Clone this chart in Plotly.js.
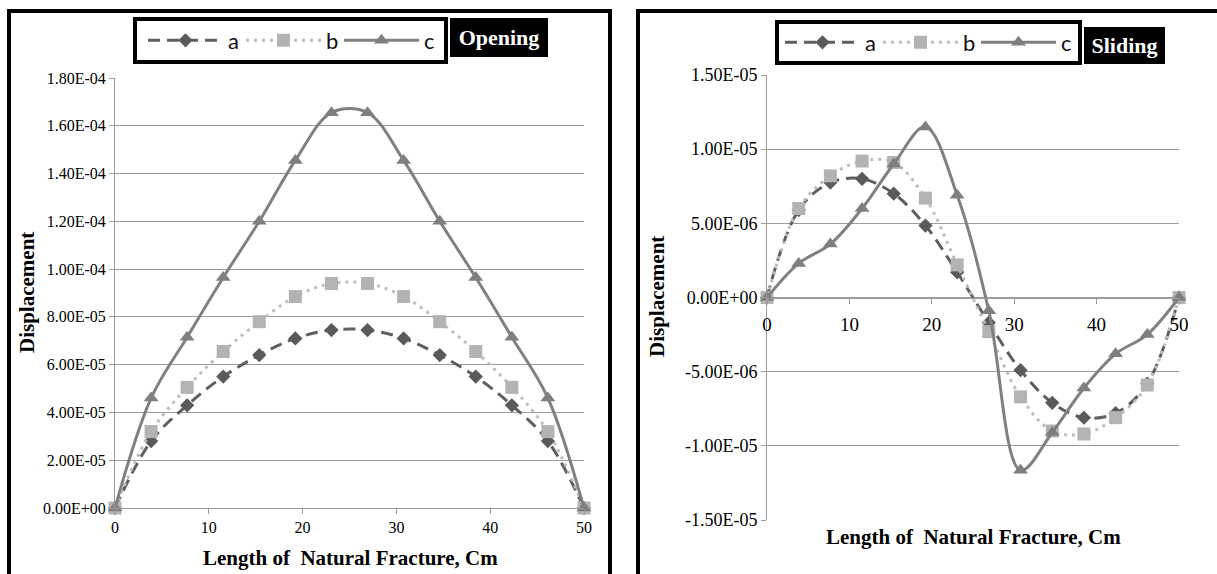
<!DOCTYPE html>
<html>
<head>
<meta charset="utf-8">
<script src="https://cdn.plot.ly/plotly-3.0.1.min.js"></script>
<style>
  html, body { margin: 0; padding: 0; background: #ffffff; }
  #chart { width: 1217px; height: 574px; }
</style>
</head>
<body>
<div id="chart"></div>
<script>
// ---------- data ----------
const xPts = [0, 3.85, 7.69, 11.54, 15.38, 19.23, 23.08, 26.92, 30.77, 34.62, 38.46, 42.31, 46.15, 50];

// Opening displacement
const openA = [0, 2.8e-5, 4.3e-5, 5.5e-5, 6.4e-5, 7.1e-5, 7.45e-5, 7.45e-5, 7.1e-5, 6.4e-5, 5.5e-5, 4.3e-5, 2.8e-5, 0];
const openB = [0, 3.2e-5, 5.05e-5, 6.55e-5, 7.8e-5, 8.85e-5, 9.4e-5, 9.4e-5, 8.85e-5, 7.8e-5, 6.55e-5, 5.05e-5, 3.2e-5, 0];
const openC = [0, 4.6e-5, 7.15e-5, 9.65e-5, 1.2e-4, 1.455e-4, 1.655e-4, 1.655e-4, 1.455e-4, 1.2e-4, 9.65e-5, 7.15e-5, 4.6e-5, 0];

// Sliding displacement
const slideA = [0, 5.9e-6, 7.75e-6, 8.0e-6, 7.0e-6, 4.85e-6, 1.7e-6, -1.7e-6, -4.9e-6, -7.1e-6, -8.1e-6, -7.8e-6, -5.8e-6, 0];
const slideB = [0, 6.0e-6, 8.2e-6, 9.2e-6, 9.1e-6, 6.7e-6, 2.2e-6, -2.3e-6, -6.7e-6, -9.0e-6, -9.2e-6, -8.1e-6, -5.9e-6, 0];
const slideC = [0, 2.3e-6, 3.6e-6, 6.0e-6, 9.0e-6, 1.15e-5, 6.9e-6, -9e-7, -1.165e-5, -9.1e-6, -6.1e-6, -3.8e-6, -2.5e-6, 0];

const seriesNames = ["a", "b", "c"];

// ---------- tick labels ----------
const xTickVals = [0, 10, 20, 30, 40, 50];
const xTickText = ["0", "10", "20", "30", "40", "50"];
const openTickVals = [0, 2e-5, 4e-5, 6e-5, 8e-5, 1e-4, 1.2e-4, 1.4e-4, 1.6e-4, 1.8e-4];
const openTickText = ["0.00E+00", "2.00E-05", "4.00E-05", "6.00E-05", "8.00E-05", "1.00E-04", "1.20E-04", "1.40E-04", "1.60E-04", "1.80E-04"];
const slideTickVals = [-1.5e-5, -1e-5, -5e-6, 0, 5e-6, 1e-5, 1.5e-5];
const slideTickText = ["-1.50E-05", "-1.00E-05", "-5.00E-06", "0.00E+00", "5.00E-06", "1.00E-05", "1.50E-05"];

// ---------- styling ----------
const W = 1217, H = 574;
const px = v => v / W;
const py = v => (H - v) / H;

const serif = "Liberation Serif, Times New Roman, serif";
const sans = "Lato, Open Sans, sans-serif";
const grid = "#9c9c9c";

const styles = [
  { line: { color: "#5f5f5f", width: 3, dash: "12px,7px", shape: "spline", smoothing: 1 },
    marker: { symbol: "diamond", size: 11, color: "#5a5a5a" } },
  { line: { color: "#bdbdbd", width: 3, dash: "3px,5px", shape: "spline", smoothing: 1 },
    marker: { symbol: "square", size: 13, color: "#b3b3b3" } },
  { line: { color: "#808080", width: 3, shape: "spline", smoothing: 1 },
    marker: { symbol: "triangle-up", size: 13, color: "#7f7f7f" } }
];

const openSeries = [openA, openB, openC];
const slideSeries = [slideA, slideB, slideC];

const traces = [];
openSeries.forEach((ys, i) => {
  traces.push({
    type: "scatter", mode: "lines+markers", name: seriesNames[i],
    x: xPts, y: ys, xaxis: "x", yaxis: "y", legend: "legend",
    line: styles[i].line, marker: styles[i].marker, cliponaxis: false
  });
});
slideSeries.forEach((ys, i) => {
  traces.push({
    type: "scatter", mode: "lines+markers", name: seriesNames[i],
    x: xPts, y: ys, xaxis: "x2", yaxis: "y2", legend: "legend2",
    line: styles[i].line, marker: styles[i].marker, cliponaxis: false
  });
});

const yDom1 = [py(508), py(78)];
const yDom2 = [py(520), py(75)];

const legendCommon = {
  orientation: "h", xanchor: "left", yanchor: "middle",
  borderwidth: 0, bgcolor: "rgba(0,0,0,0)",
  font: { family: sans, size: 22, color: "#111" },
  itemwidth: 75, entrywidth: 8, tracegroupgap: 0, itemclick: false
};

const layout = {
  width: W, height: H,
  margin: { l: 0, r: 0, t: 0, b: 0 },
  paper_bgcolor: "#ffffff", plot_bgcolor: "rgba(0,0,0,0)",
  showlegend: true,
  xaxis: {
    domain: [px(115), px(584)], range: [0, 50], anchor: "y",
    tickvals: xTickVals, ticktext: xTickText,
    ticks: "outside", ticklen: 5, tickcolor: grid,
    showline: true, linecolor: grid, linewidth: 1,
    showgrid: false, zeroline: false,
    tickfont: { family: serif, size: 16, color: "#000" }
  },
  yaxis: {
    domain: yDom1, range: [0, 1.8e-4], anchor: "x",
    tickvals: openTickVals, ticktext: openTickText,
    ticks: "outside", ticklen: 5, tickcolor: grid,
    showline: true, linecolor: grid, linewidth: 1,
    showgrid: true, gridcolor: grid, gridwidth: 1, zeroline: false,
    tickfont: { family: serif, size: 16, color: "#000" }
  },
  xaxis2: {
    domain: [px(767), px(1179)], range: [0, 50], anchor: "free",
    position: (yDom2[0] + yDom2[1]) / 2,
    tickvals: xTickVals, ticktext: xTickText,
    ticks: "outside", ticklen: 5, tickcolor: grid, ticklabelstandoff: 5,
    showline: true, linecolor: grid, linewidth: 1,
    showgrid: false, zeroline: false,
    tickfont: { family: serif, size: 19, color: "#000" }
  },
  yaxis2: {
    domain: yDom2, range: [-1.5e-5, 1.5e-5], anchor: "x2",
    tickvals: slideTickVals, ticktext: slideTickText,
    ticks: "outside", ticklen: 5, tickcolor: grid,
    showline: true, linecolor: grid, linewidth: 1,
    showgrid: true, gridcolor: grid, gridwidth: 1, zeroline: false,
    tickfont: { family: serif, size: 18, color: "#000" }
  },
  legend: Object.assign({}, legendCommon, { x: px(143), y: py(40.5) }),
  legend2: Object.assign({}, legendCommon, { x: px(780), y: py(42.5) }),
  shapes: [
    { type: "rect", xref: "paper", yref: "paper", x0: px(9), x1: px(610), y0: -0.2, y1: py(11),
      line: { color: "#000", width: 4 }, fillcolor: "rgba(0,0,0,0)", layer: "below" },
    { type: "rect", xref: "paper", yref: "paper", x0: px(638), x1: 1.2, y0: -0.2, y1: py(11),
      line: { color: "#000", width: 4 }, fillcolor: "rgba(0,0,0,0)", layer: "below" },
    // legend frames
    { type: "rect", xref: "paper", yref: "paper", x0: px(135), x1: px(446), y0: py(62), y1: py(19),
      line: { color: "#000", width: 4 }, fillcolor: "#ffffff", layer: "above" },
    { type: "rect", xref: "paper", yref: "paper", x0: px(777), x1: px(1080), y0: py(63), y1: py(22),
      line: { color: "#000", width: 4 }, fillcolor: "#ffffff", layer: "above" }
  ],
  annotations: [
    { text: "<b>Opening</b>", xref: "paper", yref: "paper", x: px(499), y: py(37.5),
      xanchor: "center", yanchor: "middle", showarrow: false,
      font: { family: serif, size: 22, color: "#fff" },
      bgcolor: "#000", bordercolor: "#000", borderwidth: 1, width: 92, height: 33, borderpad: 2 },
    { text: "<b>Sliding</b>", xref: "paper", yref: "paper", x: px(1124), y: py(45.5),
      xanchor: "center", yanchor: "middle", showarrow: false,
      font: { family: serif, size: 22, color: "#fff" },
      bgcolor: "#000", bordercolor: "#000", borderwidth: 1, width: 75, height: 31, borderpad: 2 },
    { text: "<b>Length of  Natural Fracture, Cm</b>", xref: "paper", yref: "paper",
      x: px(350), y: py(558), xanchor: "center", yanchor: "middle", showarrow: false,
      font: { family: serif, size: 21, color: "#000" } },
    { text: "<b>Length of  Natural Fracture, Cm</b>", xref: "paper", yref: "paper",
      x: px(973), y: py(537), xanchor: "center", yanchor: "middle", showarrow: false,
      font: { family: serif, size: 21, color: "#000" } },
    { text: "<b>Displacement</b>", xref: "paper", yref: "paper", textangle: -90,
      x: px(27), y: py(293), xanchor: "center", yanchor: "middle", showarrow: false,
      font: { family: serif, size: 21, color: "#000" } },
    { text: "<b>Displacement</b>", xref: "paper", yref: "paper", textangle: -90,
      x: px(657), y: py(297), xanchor: "center", yanchor: "middle", showarrow: false,
      font: { family: serif, size: 21, color: "#000" } }
  ]
};

Plotly.newPlot("chart", traces, layout, { staticPlot: true, displayModeBar: false });
</script>
</body>
</html>
